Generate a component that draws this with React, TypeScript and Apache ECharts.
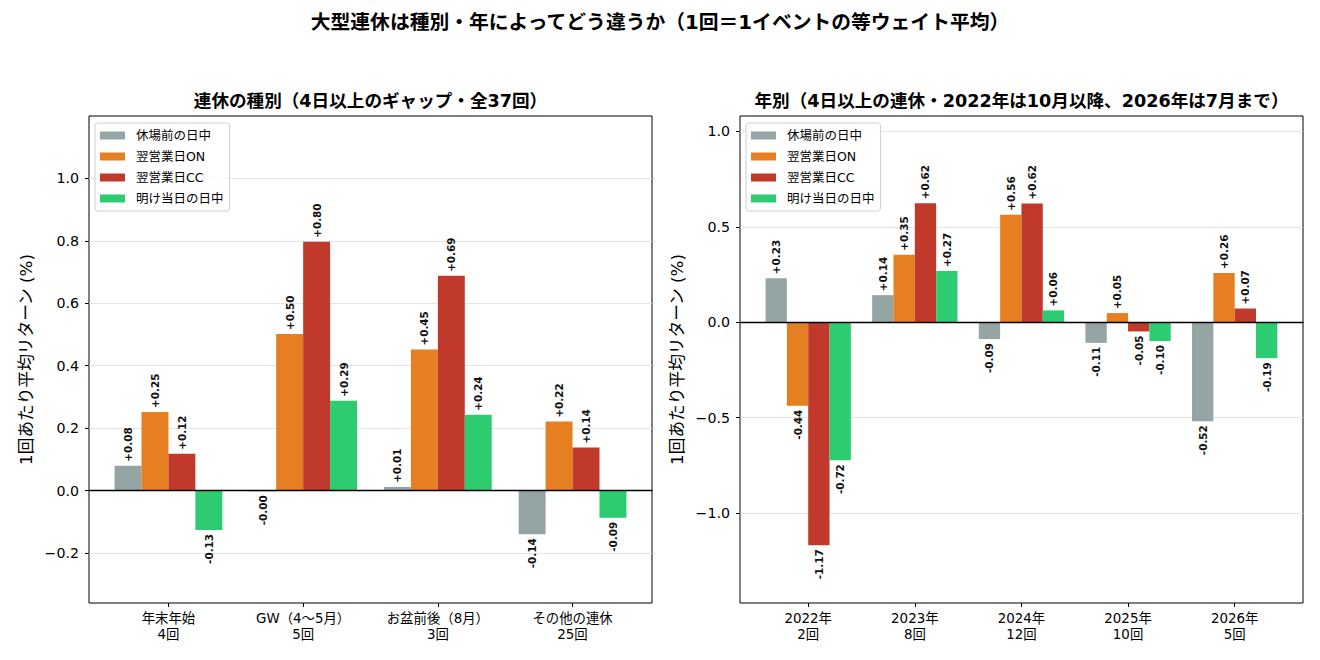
import React, { useEffect, useRef } from 'react';
import * as echarts from 'echarts';

const seriesNames = ['休場前の日中', '翌営業日ON', '翌営業日CC', '明け当日の日中'];
const seriesColors = ['#95a5a6', '#e67e22', '#c0392b', '#2ecc71'];

// 連休の種別
const typeCategories = ['年末年始\n4回', 'GW（4〜5月）\n5回', 'お盆前後（8月）\n3回', 'その他の連休\n25回'];
const typePre = [0.08, -0.002, 0.012, -0.14];
const typeOn = [0.252, 0.502, 0.452, 0.221];
const typeCc = [0.118, 0.797, 0.688, 0.138];
const typeDay = [-0.126, 0.288, 0.243, -0.087];
const typeTicks = [-0.2, 0, 0.2, 0.4, 0.6, 0.8, 1.0];

// 年別
const yearCategories = ['2022年\n2回', '2023年\n8回', '2024年\n12回', '2025年\n10回', '2026年\n5回'];
const yearPre = [0.231, 0.142, -0.088, -0.108, -0.518];
const yearOn = [-0.437, 0.354, 0.563, 0.048, 0.258];
const yearCc = [-1.168, 0.623, 0.622, -0.048, 0.072];
const yearDay = [-0.722, 0.268, 0.062, -0.098, -0.188];
const yearTicks = [-1.0, -0.5, 0, 0.5, 1.0];

// latin glyphs from DejaVu, CJK falls back to Noto
const FONT = "'DejaVu Sans', 'Noto Sans CJK JP'";

const fmtTick = (v: number) => (v < 0 ? '\u2212' + Math.abs(v).toFixed(1) : v.toFixed(1));
const fmtBar = (v: number) => (v >= 0 ? '+' : '') + v.toFixed(2);

const barSeries = (name: string, color: string, values: number[], axisIndex: number) => ({
  type: 'bar',
  name,
  xAxisIndex: axisIndex,
  yAxisIndex: axisIndex,
  barWidth: '20%',
  barGap: '0%',
  itemStyle: { color },
  label: {
    show: true,
    rotate: 90,
    distance: 4,
    verticalAlign: 'middle',
    fontSize: 10.4,
    fontWeight: 'bold',
    fontFamily: 'DejaVu Sans',
    color: '#111',
    formatter: (p: any) => fmtBar(p.value),
  },
  data: values.map((v) => ({
    value: v,
    label: { position: v >= 0 ? 'top' : 'bottom', align: v >= 0 ? 'left' : 'right' },
  })),
});

const frameYAxis = (grid: number, min: number, max: number, ticks: number[]) => ({
  gridIndex: grid,
  type: 'value',
  min,
  max,
  name: '1回あたり平均リターン (%)',
  nameLocation: 'middle',
  nameRotate: 90,
  nameGap: 55,
  nameTextStyle: { fontSize: 16.7, fontFamily: FONT, color: '#000' },
  axisLine: { show: false },
  axisTick: { show: true, length: 4, customValues: ticks, lineStyle: { color: '#000' } },
  axisLabel: {
    customValues: ticks,
    margin: 10,
    fontSize: 14.2,
    fontFamily: FONT,
    color: '#000',
    formatter: (v: number) => fmtTick(v),
  },
  splitLine: { show: true, lineStyle: { color: '#e4e4e4', width: 1 } },
});

const zeroXAxis = (grid: number) => ({
  gridIndex: grid,
  type: 'value',
  min: 0,
  max: 1,
  z: 5,
  axisLine: { show: true, onZero: true, lineStyle: { color: '#000', width: 1.3 } },
  axisTick: { show: false },
  axisLabel: { show: false },
  splitLine: { show: false },
});

const catXAxis = (grid: number, data: string[]) => ({
  gridIndex: grid,
  type: 'category',
  position: 'bottom',
  data,
  axisLine: { show: false, onZero: false },
  axisTick: { show: true, alignWithLabel: true, length: 4, lineStyle: { color: '#000' } },
  axisLabel: { interval: 0, margin: 7, fontSize: 13.4, lineHeight: 16.5, fontFamily: FONT, color: '#000' },
});

const legendBox = (left: number) => ({
  data: seriesNames,
  orient: 'vertical',
  left,
  top: 123,
  icon: 'rect',
  itemWidth: 25,
  itemHeight: 8,
  itemGap: 6,
  padding: [5, 6, 5, 5],
  borderColor: '#d0d0d0',
  borderWidth: 1,
  borderRadius: 3,
  backgroundColor: 'rgba(255,255,255,0.8)',
  textStyle: { fontSize: 12.5, lineHeight: 15, fontFamily: FONT, color: '#000', padding: [0, 0, 0, 6] },
});

const App: React.FC = () => {
  const chartRef = useRef<HTMLDivElement>(null);

  useEffect(() => {
    if (!chartRef.current) return;
    const chart = echarts.init(chartRef.current, null, { renderer: 'svg' });

    const frameGrid = { show: true, borderColor: '#000', borderWidth: 1, backgroundColor: 'transparent' };
    const subTitleStyle = { fontSize: 17.6, fontWeight: 'bold', fontFamily: FONT, color: '#000' };

    const option: any = {
      animation: false,
      title: [
        {
          text: '大型連休は種別・年によってどう違うか（1回＝1イベントの等ウェイト平均）',
          left: 'center',
          top: 12.5,
          padding: 0,
          textStyle: { fontSize: 19.8, fontWeight: 'bold', fontFamily: FONT, color: '#000' },
        },
        {
          text: '連休の種別（4日以上のギャップ・全37回）',
          left: 370.5,
          textAlign: 'center',
          top: 92.5,
          padding: 0,
          textStyle: subTitleStyle,
        },
        {
          text: '年別（4日以上の連休・2022年は10月以降、2026年は7月まで）',
          left: 1021.5,
          textAlign: 'center',
          top: 92.5,
          padding: 0,
          textStyle: subTitleStyle,
        },
      ],
      legend: [legendBox(95), legendBox(746)],
      grid: [
        { left: 89, top: 116, width: 563, height: 487, outerBoundsMode: 'none', ...frameGrid },
        { left: 101.1, top: 116, width: 538.8, height: 487, outerBoundsMode: 'none' },
        { left: 740, top: 116, width: 563, height: 487, outerBoundsMode: 'none', ...frameGrid },
        { left: 754.9, top: 116, width: 533.1, height: 487, outerBoundsMode: 'none' },
      ],
      xAxis: [zeroXAxis(0), catXAxis(1, typeCategories), zeroXAxis(2), catXAxis(3, yearCategories)],
      yAxis: [
        frameYAxis(0, -0.36, 1.2, typeTicks),
        { gridIndex: 1, type: 'value', min: -0.36, max: 1.2, show: false },
        frameYAxis(2, -1.47, 1.08, yearTicks),
        { gridIndex: 3, type: 'value', min: -1.47, max: 1.08, show: false },
      ],
      series: [
        barSeries(seriesNames[0], seriesColors[0], typePre, 1),
        barSeries(seriesNames[1], seriesColors[1], typeOn, 1),
        barSeries(seriesNames[2], seriesColors[2], typeCc, 1),
        barSeries(seriesNames[3], seriesColors[3], typeDay, 1),
        barSeries(seriesNames[0], seriesColors[0], yearPre, 3),
        barSeries(seriesNames[1], seriesColors[1], yearOn, 3),
        barSeries(seriesNames[2], seriesColors[2], yearCc, 3),
        barSeries(seriesNames[3], seriesColors[3], yearDay, 3),
      ],
    };

    chart.setOption(option);
    return () => {
      chart.dispose();
    };
  }, []);

  return (
    <div
      ref={chartRef}
      style={{ position: 'fixed', left: 0, top: 0, width: 1320, height: 660, background: '#fff' }}
    />
  );
};

export default App;
